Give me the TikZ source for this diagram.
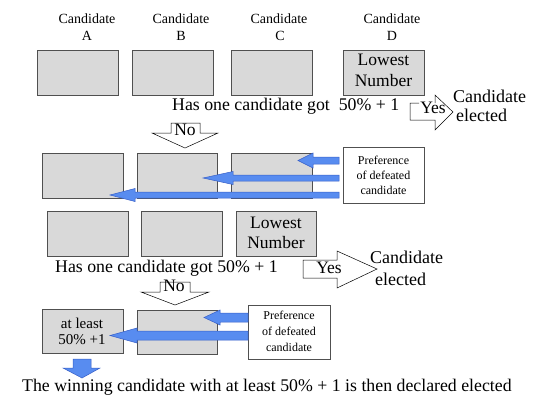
\documentclass[tikz,border=0pt]{standalone}
\usepackage{fontspec}
\setmainfont{Liberation Serif}
\newfontfamily\tnr{Liberation Serif}
\definecolor{boxfill}{RGB}{217,217,217}
\definecolor{boxline}{RGB}{80,80,80}
\definecolor{bluefill}{RGB}{88,140,240}
\definecolor{blueline}{RGB}{55,95,200}
\tikzset{
 box/.style={draw=boxline, fill=boxfill, line width=0.8pt, minimum width=81pt, minimum height=45pt, inner sep=0pt},
 prefbox/.style={draw=boxline, fill=white, line width=0.6pt, minimum width=81pt, minimum height=56pt, inner sep=0pt},
 ptxt/.style={font=\tnr\fontsize{12}{15}\selectfont, anchor=base, inner sep=0pt},
 btxt/.style={font=\tnr\fontsize{17.5}{20}\selectfont, anchor=base, inner sep=0pt},
 stxt/.style={font=\tnr\fontsize{15}{16}\selectfont, anchor=base, inner sep=0pt},
 hdr/.style={font=\tnr\fontsize{14}{16}\selectfont, anchor=base, inner sep=0pt},
 big/.style={font=\tnr\fontsize{17.8}{20}\selectfont, anchor=base west, inner sep=0pt},
 lbl/.style={font=\tnr\fontsize{17.5}{20}\selectfont, anchor=base, inner sep=0pt},
 lblw/.style={font=\tnr\fontsize{18}{20}\selectfont, anchor=base west, inner sep=0pt},
 blockarrow/.style={draw=black, fill=white, line width=0.5pt, line join=miter},
 bluearrow/.style={draw=blueline, fill=bluefill, line width=0.5pt, line join=miter},
}
\begin{document}
\begin{tikzpicture}[x=1pt,y=-1pt]
\useasboundingbox[fill=white] (0,0) rectangle (539,397);
% headers
\node[hdr] (hA) at (87,23.3) {Candidate};
\node[hdr] (lA) at (87,40.7) {A};
\node[hdr] (hB) at (181,23.3) {Candidate};
\node[hdr] (lB) at (181,40.7) {B};
\node[hdr] (hC) at (279,23.3) {Candidate};
\node[hdr] (lC) at (280,40.7) {C};
\node[hdr] (hD) at (392,23.3) {Candidate};
\node[hdr] (lD) at (392,40.7) {D};
% row 1
\node[box] (r1a) at (77.5,72.5) {};
\node[box] (r1b) at (172.5,72.5) {};
\node[box] (r1c) at (271.5,72.5) {};
\node[box] (r1d) at (383.5,72.5) {};
\node[btxt] (r1d1) at (383.5,65) {Lowest};
\node[btxt] (r1d2) at (383.5,86) {Number};
\node[big] (q1) at (172,110) {Has one candidate got\ \ 50\% + 1};
% yes arrow 1
\fill[white] (410,103) -- (435,103) -- (435,95) -- (453,112) -- (435,130) -- (435,120) -- (410,120) -- cycle;
\draw[black, line width=0.5pt, line join=miter] (419,103) -- (410,103) -- (410,120) -- (435,120) -- (435,130) -- (453,112) -- (435,95) -- (435,103);
\node[lbl] (yes1) at (433,113) {Yes};
\node[lblw] (ce1) at (453,102) {Candidate};
\node[lblw] (el1) at (456,121) {elected};
% no arrow 1
\draw[blockarrow] (171,123) -- (200,123) -- (200,133) -- (218,133) -- (185,148) -- (152,133) -- (171,133) -- cycle;
\node[lbl] (no1) at (185,135) {No};
% row 2
\node[box] (r2a) at (82.5,175.5) {};
\node[box, minimum width=80pt] (r2b) at (177,175.5) {};
\node[box] (r2c) at (271.5,175.5) {};
\node[prefbox] (p1) at (383.5,175) {};
\node[ptxt] (p1a) at (383.5,164) {Preference};
\node[ptxt] (p1b) at (383.5,179) {of defeated};
\node[ptxt] (p1c) at (383.5,194) {candidate};
\draw[bluearrow] (339,157) -- (313,157) -- (313,153) -- (298,160.5) -- (313,168) -- (313,164) -- (339,164) -- cycle;
\draw[bluearrow] (339,175) -- (233,175) -- (233,171.5) -- (203,178) -- (233,184.5) -- (233,181) -- (339,181) -- cycle;
\draw[bluearrow] (339,192) -- (135,192) -- (135,188.5) -- (110,195) -- (135,201.5) -- (135,198) -- (339,198) -- cycle;
% row 3
\node[box] (r3a) at (87.5,233.5) {};
\node[box] (r3b) at (181.5,233.5) {};
\node[box, minimum width=80pt] (r3c) at (276,233.5) {};
\node[btxt] (r3c1) at (276,228) {Lowest};
\node[btxt] (r3c2) at (276,248) {Number};
\node[big] (q2) at (55,272) {Has one candidate got 50\% + 1};
% yes arrow 2
\draw[blockarrow] (303,260) -- (337,260) -- (337,251) -- (377,269) -- (337,288) -- (337,278) -- (303,278) -- cycle;
\node[lbl] (yes2) at (329,273) {Yes};
\node[lblw] (ce2) at (370,263) {Candidate};
\node[lblw] (el2) at (375,285) {elected};
% no arrow 2
\draw[blockarrow] (160,282) -- (190,282) -- (190,292) -- (209,292) -- (175,305) -- (141,292) -- (160,292) -- cycle;
\node[lbl] (no2) at (174,291) {No};
% row 4
\node[box, minimum height=44pt] (r4a) at (82.5,331) {};
\node[stxt] (r4a1) at (82,328) {at least};
\node[stxt] (r4a2) at (82,344) {50\% +1};
\node[box, minimum width=80pt, minimum height=44pt] (r4b) at (177,332) {};
\node[prefbox, minimum width=82pt, minimum height=54pt] (p2) at (289,332) {};
\node[ptxt] (p2a) at (289,319) {Preference};
\node[ptxt] (p2b) at (289,335) {of defeated};
\node[ptxt] (p2c) at (289,351) {candidate};
\draw[bluearrow] (248,313) -- (220,313) -- (220,310) -- (204,317.5) -- (220,325) -- (220,322) -- (248,322) -- cycle;
\draw[bluearrow] (248,331) -- (137,331) -- (137,328) -- (110,335.5) -- (137,343) -- (137,340) -- (248,340) -- cycle;
\draw[bluearrow] (73,359) -- (91,359) -- (91,368) -- (100,368) -- (82,378) -- (63,368) -- (73,368) -- cycle;
\node[big] (fin) at (22,391.7) {The winning candidate with at least 50\% + 1 is then declared elected};
\end{tikzpicture}
\end{document}
